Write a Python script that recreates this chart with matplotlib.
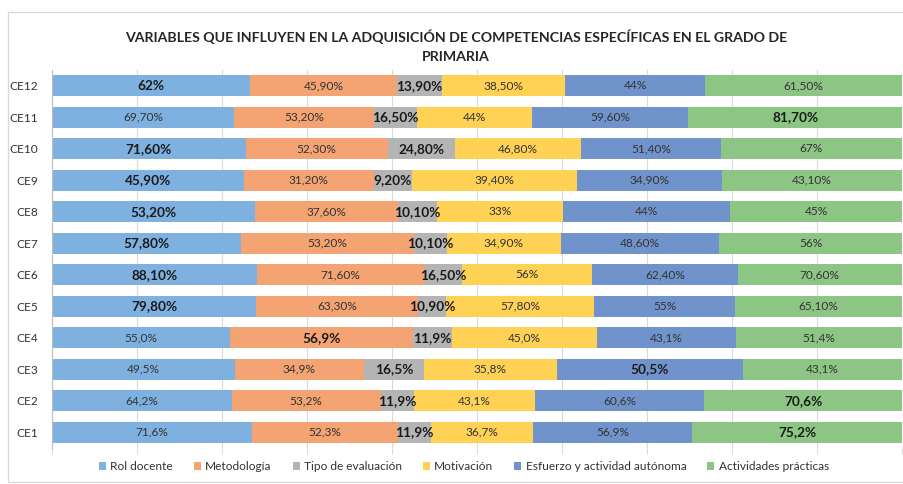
import matplotlib
matplotlib.use("Agg")
import matplotlib.pyplot as plt
from matplotlib.patches import Rectangle
import numpy as np

plt.rcParams['font.family'] = ['Lato', 'DejaVu Sans']

categories = ["CE1", "CE2", "CE3", "CE4", "CE5", "CE6", "CE7", "CE8", "CE9", "CE10", "CE11", "CE12"]
series_names = ["Rol docente", "Metodología", "Tipo de evaluación", "Motivación",
                "Esfuerzo y actividad autónoma", "Actividades prácticas"]

rol_docente = [71.6, 64.2, 49.5, 55.0, 79.8, 88.1, 57.8, 53.2, 45.9, 71.6, 69.7, 62.0]
metodologia = [52.3, 53.2, 34.9, 56.9, 63.3, 71.6, 53.2, 37.6, 31.2, 52.3, 53.2, 45.9]
tipo_evaluacion = [11.9, 11.9, 16.5, 11.9, 10.9, 16.5, 10.1, 10.1, 9.2, 24.8, 16.5, 13.9]
motivacion = [36.7, 43.1, 35.8, 45.0, 57.8, 56.0, 34.9, 33.0, 39.4, 46.8, 44.0, 38.5]
esfuerzo = [56.9, 60.6, 50.5, 43.1, 55.0, 62.4, 48.6, 44.0, 34.9, 51.4, 59.6, 44.0]
actividades = [75.2, 70.6, 43.1, 51.4, 65.1, 70.6, 56.0, 45.0, 43.1, 67.0, 81.7, 61.5]

lab_rol = ["71,6%", "64,2%", "49,5%", "55,0%", "79,80%", "88,10%", "57,80%", "53,20%", "45,90%", "71,60%", "69,70%", "62%"]
lab_met = ["52,3%", "53,2%", "34,9%", "56,9%", "63,30%", "71,60%", "53,20%", "37,60%", "31,20%", "52,30%", "53,20%", "45,90%"]
lab_tipo = ["11,9%", "11,9%", "16,5%", "11,9%", "10,90%", "16,50%", "10,10%", "10,10%", "9,20%", "24,80%", "16,50%", "13,90%"]
lab_mot = ["36,7%", "43,1%", "35,8%", "45,0%", "57,80%", "56%", "34,90%", "33%", "39,40%", "46,80%", "44%", "38,50%"]
lab_esf = ["56,9%", "60,6%", "50,5%", "43,1%", "55%", "62,40%", "48,60%", "44%", "34,90%", "51,40%", "59,60%", "44%"]
lab_act = ["75,2%", "70,6%", "43,1%", "51,4%", "65,10%", "70,60%", "56%", "45%", "43,10%", "67%", "81,70%", "61,50%"]

colors = ["#7EB1DF", "#F4A372", "#B4B4B4", "#FFD155", "#7193CC", "#8DC684"]

values = np.array([rol_docente, metodologia, tipo_evaluacion, motivacion, esfuerzo, actividades])
labels = [lab_rol, lab_met, lab_tipo, lab_mot, lab_esf, lab_act]
totals = values.sum(axis=0)
fractions = values / totals
rowmax = values.max(axis=0)

fig = plt.figure(figsize=(9.04, 4.84), dpi=100)
fig.patches.append(Rectangle((8 / 904, 2 / 484), 1.0, 470 / 484, transform=fig.transFigure,
                             facecolor='none', edgecolor='#D9D9D9', linewidth=1.0))

ax = fig.add_axes([52 / 904, 36 / 484, 850 / 904, 378 / 484])
y = np.arange(len(categories))
left = np.zeros(len(categories))
handles = []
for i, name in enumerate(series_names):
    bars = ax.barh(y, fractions[i], left=left, height=0.67, color=colors[i], label=name, zorder=2)
    handles.append(bars)
    for j in range(len(categories)):
        bold = (i == 2) or (values[i, j] == rowmax[j])
        ax.text(left[j] + fractions[i, j] / 2, y[j], labels[i][j], ha='center', va='center',
                fontsize=9.8 if bold else 8.6, fontweight='bold' if bold else 'normal',
                color='#1a1a1a' if bold else '#333333', zorder=3)
    left += fractions[i]

ax.set_xlim(0, 1)
ax.set_ylim(-0.5, len(categories) - 0.5)
ax.set_xticks(np.arange(0, 1.01, 0.1))
ax.set_xticklabels([])
ax.set_yticks(y)
ax.set_yticklabels(categories, fontsize=8.6, color='#333333')
ax.tick_params(axis='y', length=0, pad=10)
ax.tick_params(axis='x', length=4, color='#D9D9D9')
ax.grid(axis='x', color='#D9D9D9', linewidth=0.8, zorder=0)
for s in ['top', 'right', 'bottom']:
    ax.spines[s].set_visible(False)
ax.spines['left'].set_color('#BFBFBF')

fig.text(456 / 904, 1 - 37 / 484, "VARIABLES QUE INFLUYEN EN LA ADQUISICIÓN DE COMPETENCIAS ESPECÍFICAS EN EL GRADO DE",
         ha='center', va='center', fontsize=10.2, fontweight='bold', color='#262626')
fig.text(456 / 904, 1 - 57 / 484, "PRIMARIA", ha='center', va='center', fontsize=10.2,
         fontweight='bold', color='#262626')

fig.legend(handles=handles, labels=series_names, loc='center', ncol=6,
           bbox_to_anchor=(464 / 904, 1 - 467 / 484), frameon=False, fontsize=8.6,
           handlelength=0.6, handleheight=0.6, handletextpad=0.35, columnspacing=1.75,
           labelcolor='#333333')

fig.savefig("out.png", dpi=100)
